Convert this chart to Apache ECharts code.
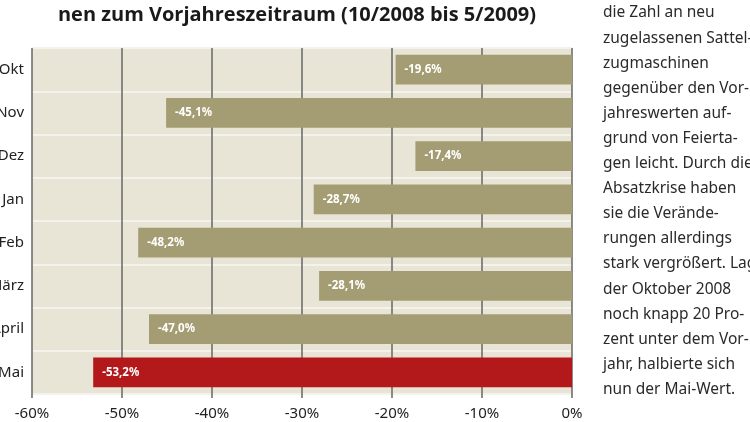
<!DOCTYPE html>
<html><head><meta charset="utf-8">
<script src="https://cdn.jsdelivr.net/npm/echarts@6/dist/echarts.min.js"></script>
<style>html,body{margin:0;padding:0;background:#fff}#c{width:750px;height:422px}</style>
</head><body><div id="c"></div>
<script>
const months = ['Okt','Nov','Dez','Jan','Feb','März','April','Mai'];
const changes = [-19.6,-45.1,-17.4,-28.7,-48.2,-28.1,-47.0,-53.2];
const highlight = [false,false,false,false,false,false,false,true];
const xTicks = [-60,-50,-40,-30,-20,-10,0];
const titleText = 'nen zum Vorjahreszeitraum (10/2008 bis 5/2009)';
const sideText = ['die Zahl an neu','zugelassenen Sattel-','zugmaschinen','gegenüber den Vor-','jahreswerten auf-','grund von Feierta-','gen leicht. Durch die','Absatzkrise haben','sie die Verände-','rungen allerdings','stark vergrößert. Lag','der Oktober 2008','noch knapp 20 Pro-','zent unter dem Vor-','jahr, halbierte sich','nun der Mai-Wert.'];

const chart = echarts.init(document.getElementById('c'), null, {renderer:'canvas'});
const graphics = [{
  type:'text', x:297, y:5,
  style:{text:titleText, fill:'#1a1a1a', font:'bold 20px "Open Sans"', textAlign:'center'}
}];
sideText.forEach((t,i)=>{
  graphics.push({type:'text', x:603, y:5+i*25.1,
    style:{text:t, fill:'#2a2a2a', font:'15.5px "Noto Sans"', textAlign:'left'}});
});
chart.setOption({
  animation:false,
  backgroundColor:'#fff',
  grid:{left:32,right:178,top:48,bottom:28,show:true,backgroundColor:'#e8e5d6',borderWidth:0,outerBoundsMode:'none',containLabel:false},
  xAxis:{type:'value',min:-60,max:0,interval:10,
    axisLine:{show:false},
    axisTick:{show:true,length:4,lineStyle:{color:'#666',width:1.5}},
    splitLine:{show:true,lineStyle:{color:'#666',width:1.5}},
    axisLabel:{margin:12,color:'#222',fontSize:15,fontFamily:'Noto Sans',
      formatter:v=>xTicks.includes(v)?v+'%':''}},
  yAxis:{type:'category',data:months,inverse:true,
    axisLine:{show:false},axisTick:{show:false},
    splitLine:{show:true,lineStyle:{color:'#f4f2ea',width:2}},
    axisLabel:{margin:8,color:'#222',fontSize:15,fontFamily:'Noto Sans'}},
  series:[{type:'bar',barWidth:'69%',
    data:changes.map((v,i)=>({value:v,itemStyle:{color:highlight[i]?'#b3181b':'#a49d73'}})),
    label:{show:true,position:'insideLeft',distance:9,color:'#fff',fontSize:11.5,fontWeight:'bold',fontFamily:'Noto Sans',
      formatter:p=>p.value.toFixed(1).replace('.',',')+'%'}}],
  graphic:graphics
});
</script></body></html>
